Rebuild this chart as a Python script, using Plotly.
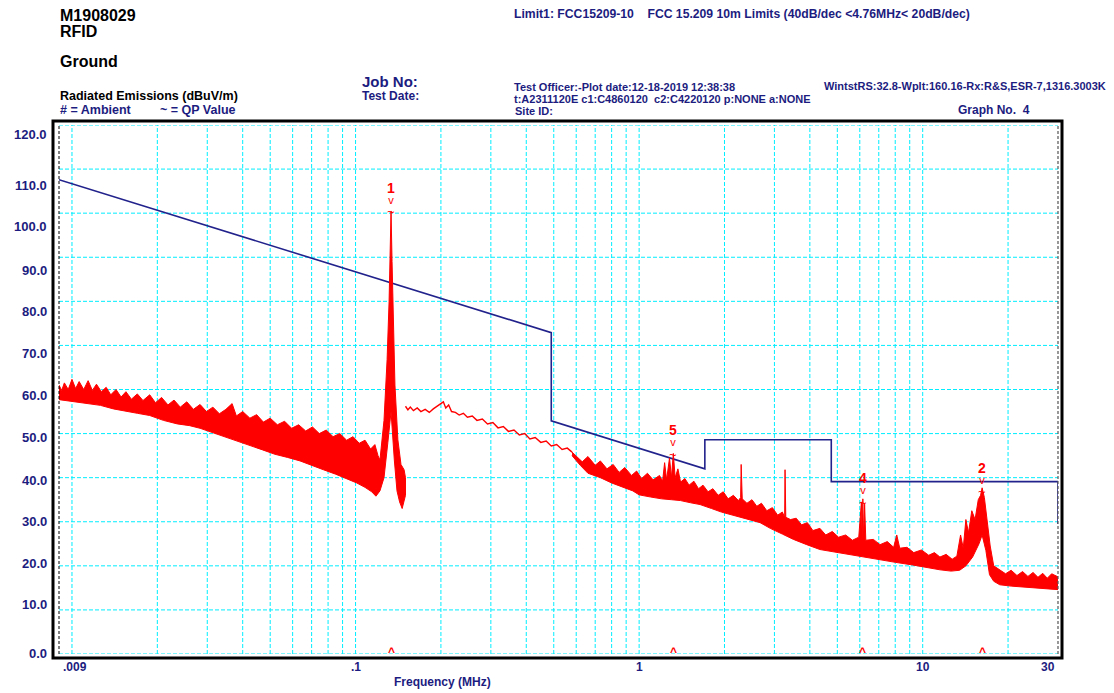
import math
import plotly.graph_objects as go

# ---------------- data (MHz, dBuV/m) ----------------
limit_freq = [0.009, 0.49, 0.49, 1.705, 1.705, 4.76, 4.76, 30.0, 30.0]
limit_db = [107.6, 72.9, 52.9, 42.0, 48.6, 48.6, 39.1, 39.1, 29.5]

# band 9 kHz - 150 kHz (upper / lower edge of the noisy sweep)
bandA_hi_freq = [0.0090, 0.0092, 0.0094, 0.0097, 0.0100, 0.0103, 0.0106, 0.0110, 0.0114, 0.0118,
                 0.0122, 0.0127, 0.0132, 0.0137, 0.0143, 0.0149, 0.0155, 0.0162, 0.0170, 0.0178,
                 0.0188, 0.0197, 0.0207, 0.0218, 0.0229, 0.0241, 0.0254, 0.0268, 0.0283, 0.0298,
                 0.0314, 0.0331, 0.0349, 0.0367, 0.0380, 0.0400, 0.0424, 0.0448, 0.0473, 0.0500,
                 0.0530, 0.0562, 0.0595, 0.0630, 0.0667, 0.0705, 0.0745, 0.0788, 0.0833, 0.0880,
                 0.0930, 0.0980, 0.1030, 0.1080, 0.1130, 0.1170, 0.1200, 0.1219, 0.1260, 0.1292,
                 0.1313, 0.1328, 0.1334, 0.1345, 0.1360, 0.1377, 0.1410, 0.1446, 0.1483, 0.1500]
bandA_hi_db = [61.0, 59.8, 61.5, 60.0, 62.3, 60.2, 61.8, 60.0, 62.0, 59.8,
               61.2, 59.5, 60.5, 58.8, 60.0, 58.3, 59.5, 57.8, 59.0, 57.5,
               58.8, 57.0, 58.2, 56.5, 57.6, 56.0, 57.2, 55.5, 56.6, 55.0,
               56.0, 54.5, 55.5, 56.8, 54.0, 55.0, 53.5, 54.3, 52.6, 53.5,
               52.0, 52.8, 51.2, 52.0, 50.6, 51.5, 50.0, 50.8, 49.3, 50.0,
               48.5, 49.3, 47.8, 48.5, 46.5, 47.5, 45.0, 44.0, 53.0, 66.8,
               80.0, 95.0, 100.5, 89.0, 73.5, 61.0, 48.6, 43.0, 41.8, 40.0]
bandA_lo_freq = [0.0090, 0.0100, 0.0112, 0.0126, 0.0140, 0.0155, 0.0170, 0.0188, 0.0210, 0.0235,
                 0.0260, 0.0283, 0.0315, 0.0350, 0.0385, 0.0424, 0.0470, 0.0520, 0.0575, 0.0637,
                 0.0700, 0.0770, 0.0850, 0.0930, 0.1010, 0.1080, 0.1140, 0.1180, 0.1219, 0.1260,
                 0.1300, 0.1334, 0.1370, 0.1400, 0.1430, 0.1460, 0.1480, 0.1500]
bandA_lo_db = [57.7, 57.2, 56.8, 56.4, 55.6, 55.0, 54.6, 54.1, 53.0, 52.2,
               51.8, 51.2, 50.0, 49.0, 48.2, 47.3, 46.3, 45.3, 44.6, 43.8,
               42.8, 41.8, 40.8, 39.8, 38.8, 37.8, 36.8, 35.8, 37.0, 40.0,
               48.0, 55.0, 44.0, 37.0, 34.5, 33.0, 34.5, 36.0]

# thin sweep 150 kHz - 580 kHz
thin_freq = [0.150, 0.153, 0.156, 0.160, 0.165, 0.170, 0.176, 0.182, 0.188, 0.194,
             0.200, 0.204, 0.208, 0.213, 0.218, 0.225, 0.232, 0.240, 0.248, 0.258,
             0.268, 0.280, 0.292, 0.305, 0.318, 0.332, 0.346, 0.362, 0.378, 0.395,
             0.412, 0.430, 0.450, 0.470, 0.490, 0.512, 0.535, 0.558, 0.580]
thin_db = [56.2, 55.4, 56.0, 55.2, 55.8, 55.0, 55.5, 54.8, 55.6, 56.2,
           56.8, 57.2, 55.8, 56.5, 55.0, 54.8, 54.2, 54.6, 53.7, 54.0,
           53.0, 53.3, 52.2, 52.5, 51.3, 51.6, 50.5, 50.8, 49.7, 50.0,
           48.8, 49.1, 48.0, 48.3, 47.2, 47.5, 46.4, 46.7, 45.8]

# band 580 kHz - 30 MHz
bandC_hi_freq = [0.58, 0.60, 0.63, 0.66, 0.70, 0.73, 0.77, 0.81, 0.85, 0.89, 0.94,
                 0.98, 1.02, 1.07, 1.12, 1.18, 1.21, 1.23, 1.25, 1.28, 1.30,
                 1.32, 1.34, 1.37, 1.40, 1.45, 1.50, 1.56, 1.62, 1.68, 1.75,
                 1.82, 1.90, 1.98, 2.06, 2.15, 2.24, 2.28, 2.29, 2.31, 2.40,
                 2.50, 2.60, 2.70, 2.82, 2.95, 3.08, 3.20, 3.26, 3.27, 3.29,
                 3.42, 3.58, 3.74, 3.92, 4.10, 4.34, 4.55, 4.80, 5.05, 5.35,
                 5.65, 5.95, 6.08, 6.12, 6.15, 6.19, 6.24, 6.30, 6.70, 7.07,
                 7.50, 7.90, 8.10, 8.30, 8.80, 9.30, 9.90, 10.5, 11.0, 11.5,
                 12.1, 12.7, 13.2, 13.6, 13.9, 14.2, 14.5, 14.9, 15.3, 15.7,
                 16.0, 16.2, 16.5, 16.9, 17.3, 17.8, 18.7, 19.6, 20.5, 21.5,
                 22.5, 23.5, 24.5, 25.5, 26.5, 27.5, 28.5, 30.0]
bandC_hi_db = [45.8, 44.8, 43.6, 44.8, 42.8, 43.8, 42.0, 43.0, 41.2, 42.3, 40.5,
               41.5, 39.8, 41.0, 39.5, 40.5, 39.2, 43.4, 39.5, 44.5, 40.0,
               45.5, 40.0, 42.0, 39.0, 39.8, 38.3, 39.2, 37.5, 38.3, 36.8,
               37.5, 36.0, 36.8, 35.2, 36.0, 34.8, 35.5, 43.0, 35.2, 34.2,
               35.0, 33.5, 34.2, 32.5, 33.2, 31.5, 32.2, 31.0, 41.8, 31.0,
               30.5, 30.8, 29.3, 29.8, 28.0, 28.5, 27.0, 27.8, 26.5, 27.0,
               25.8, 26.5, 34.5, 26.0, 35.2, 26.0, 34.0, 25.8, 26.0, 24.8,
               25.5, 24.2, 27.0, 24.0, 24.2, 23.0, 23.6, 22.4, 23.0, 22.0,
               22.6, 21.5, 22.2, 27.0, 24.0, 30.5, 27.5, 32.5, 30.5, 35.0,
               36.0, 37.7, 35.5, 30.0, 24.5, 20.0, 19.0, 18.2, 19.0, 17.8,
               18.7, 17.6, 18.5, 17.4, 18.3, 17.2, 18.2, 17.5]
bandC_lo_freq = [0.58, 0.62, 0.66, 0.73, 0.80, 0.88, 0.95, 1.00, 1.10, 1.20, 1.30,
                 1.40, 1.52, 1.64, 1.80, 1.95, 2.10, 2.30, 2.50, 2.67, 2.90,
                 3.20, 3.50, 3.90, 4.34, 4.90, 5.50, 6.20, 7.07, 8.00, 9.20,
                 10.3, 11.5, 12.6, 13.5, 14.2, 15.0, 15.8, 16.2, 16.7, 17.2,
                 17.8, 18.7, 20.5, 22.5, 24.5, 26.5, 28.5, 30.0]
bandC_lo_db = [45.0, 42.8, 41.0, 40.0, 38.8, 37.8, 37.0, 36.1, 35.6, 35.2, 35.0,
               34.8, 34.3, 33.9, 33.0, 32.2, 31.5, 30.8, 30.3, 29.8, 28.5,
               27.2, 26.0, 24.8, 23.7, 23.2, 22.6, 22.0, 21.4, 20.8, 20.2,
               19.7, 19.1, 18.8, 19.0, 20.0, 22.0, 25.0, 27.0, 23.5, 18.0,
               16.5, 15.7, 15.4, 15.2, 15.0, 14.8, 14.7, 14.6]

marker_label = ["1", "5", "4", "2"]
marker_freq = [0.1334, 1.32, 6.15, 16.2]
marker_db = [100.6, 45.5, 34.6, 37.0]

y_tick_text = ["0.0", "10.0", "20.0", "30.0", "40.0", "50.0", "60.0",
               "70.0", "80.0", "90.0", "100.0", "110.0", "120.0"]
y_grid = [0, 10, 20, 30, 40, 50, 60, 70, 80, 90, 100, 110, 120]
x_label_vals = [0.1, 1, 10]
x_label_text = [".1", "1", "10"]

# ---------------- styling ----------------
NAVY = "#1c1c80"
RED = "#ff0000"
CYAN = "#00eeff"
FONT = "Liberation Sans, Arial, sans-serif"
W, H = 1114, 693
L, R, T, B = 59, 56, 125, 39
PW, PH = W - L - R, H - T - B
# pixel rows where the original software prints the y tick labels
Y_LABEL_PX = [653, 604, 563, 521, 480, 437, 395, 353, 311, 270, 227, 185, 134]


def px_x(px):
    return (px - L) / PW


def px_y(py):
    return (H - B - py) / PH


grid_vals = [d * 10 ** e for e in (-2, -1, 0) for d in range(1, 10)] + [10, 20]

fig = go.Figure()

# grid (cyan dashed), drawn as shapes on the axes' scales
for g in grid_vals:
    fig.add_shape(type="line", xref="x", yref="paper", x0=g, x1=g,
                  y0=0, y1=1, layer="below",
                  line=dict(color=CYAN, width=1, dash="4px,2px"))
for v in y_grid:
    fig.add_shape(type="line", xref="paper", yref="y", x0=0, x1=1, y0=v, y1=v,
                  layer="below", line=dict(color=CYAN, width=1, dash="4px,2px"))

fig.add_trace(go.Scatter(x=limit_freq, y=limit_db, mode="lines",
                         line=dict(color="#22228c", width=1.6),
                         hoverinfo="skip", showlegend=False))

for hf, hd, lf, ld in [(bandA_hi_freq, bandA_hi_db, bandA_lo_freq, bandA_lo_db),
                       (bandC_hi_freq, bandC_hi_db, bandC_lo_freq, bandC_lo_db)]:
    fig.add_trace(go.Scatter(x=list(hf) + list(lf)[::-1], y=list(hd) + list(ld)[::-1],
                             mode="lines", fill="toself", fillcolor=RED,
                             line=dict(color=RED, width=1),
                             hoverinfo="skip", showlegend=False))

fig.add_trace(go.Scatter(x=thin_freq, y=thin_db, mode="lines",
                         line=dict(color=RED, width=1.4),
                         hoverinfo="skip", showlegend=False))

# marker annotations
for lab, f, d in zip(marker_label, marker_freq, marker_db):
    xf = math.log10(f)
    fig.add_annotation(x=xf, y=d, xref="x", yref="y", text="~", showarrow=False,
                       font=dict(family=FONT, size=13, color=RED), yshift=-1)
    fig.add_annotation(x=xf, y=d, xref="x", yref="y",
                       text='<span style="font-size:14px"><b>' + lab + '</b></span><br>'
                            '<span style="font-size:11px">v</span>',
                       showarrow=False, yanchor="bottom",
                       font=dict(family=FONT, size=8.5, color=RED), yshift=3)
    fig.add_annotation(x=xf, y=0, xref="x", yref="y", text="<b>^</b>", showarrow=False,
                       font=dict(family=FONT, size=12, color=RED), yshift=2)


def txt(px, py, s, size, color, anchor="left"):
    fig.add_annotation(x=px_x(px), y=px_y(py), xref="paper", yref="paper", text=s,
                       showarrow=False, xanchor=anchor, yanchor="middle",
                       font=dict(family=FONT, size=size, color=color))


# y tick labels (printed by the original software slightly off the grid rows)
for lab, py in zip(y_tick_text, Y_LABEL_PX):
    txt(49, py, "<b>" + lab + "</b>", 13, NAVY, "right")

# x tick labels
for v, lab in zip(x_label_vals, x_label_text):
    fig.add_annotation(x=math.log10(v), y=px_y(667), xref="x", yref="paper",
                       text="<b>" + lab + "</b>", showarrow=False, yanchor="middle",
                       font=dict(family=FONT, size=12, color=NAVY))

# header texts
txt(58, 15, "<b>M1908029</b>", 16, "#000000")
txt(58, 31, "<b>RFID</b>", 16, "#000000")
txt(58, 62, "<b>Ground</b>", 16, "#000000")
txt(58, 96, "<b>Radiated Emissions (dBuV/m)</b>", 12.5, "#000000")
txt(58, 110, "<b># = Ambient</b>", 12.5, NAVY)
txt(158, 110, "<b>~ = QP Value</b>", 12.5, NAVY)
txt(360, 82, "<b>Job No:</b>", 15, NAVY)
txt(360, 96, "<b>Test Date:</b>", 12, NAVY)
txt(512, 14, "<b>Limit1: FCC15209-10&nbsp;&nbsp;&nbsp;&nbsp;FCC 15.209 10m Limits (40dB/dec &lt;4.76MHz&lt; 20dB/dec)</b>",
    12.2, NAVY)
txt(512, 87, "<b>Test Officer:-Plot date:12-18-2019 12:38:38</b>", 11, NAVY)
txt(512, 99, "<b>t:A2311120E c1:C4860120&nbsp;&nbsp;c2:C4220120 p:NONE a:NONE</b>", 11, NAVY)
txt(513, 111, "<b>Site ID:</b>", 11, NAVY)
txt(1108, 86, "<b>WintstRS:32.8-Wplt:160.16-Rx:R&amp;S,ESR-7,1316.3003K</b>", 11, NAVY, "right")
txt(956, 110, "<b>Graph No.&nbsp;&nbsp;4</b>", 12, NAVY)
txt(442, 682, "<b>Frequency (MHz)</b>", 12, NAVY, "center")
txt(61, 667, "<b>.009</b>", 12, NAVY)
txt(1057, 667, "<b>30</b>", 12, NAVY, "right")

# frame and edge lines
fig.add_shape(type="line", xref="paper", yref="paper", x0=0, x1=0, y0=0, y1=1,
              line=dict(color="#000000", width=1, dash="3px,2px"))
fig.add_shape(type="line", xref="paper", yref="paper", x0=1, x1=1, y0=0, y1=1,
              line=dict(color="#555555", width=1.2, dash="3px,2px"))
fig.add_shape(type="rect", xref="paper", yref="paper",
              x0=px_x(53), x1=px_x(1062), y0=px_y(658), y1=px_y(121),
              line=dict(color="#000000", width=3))

fig.update_layout(
    template="none",
    width=W, height=H,
    margin=dict(l=L, r=R, t=T, b=B, pad=0),
    paper_bgcolor="white", plot_bgcolor="white",
    showlegend=False,
    xaxis=dict(type="log", range=[math.log10(0.009), math.log10(30)],
               showgrid=False, showticklabels=False, ticks="",
               zeroline=False, showline=False),
    yaxis=dict(range=[0, 120], showgrid=False, showticklabels=False, ticks="",
               zeroline=False, showline=False),
)

fig.write_html("out.html", config={"displayModeBar": False},
               post_script="document.body.style.margin='0px';")
